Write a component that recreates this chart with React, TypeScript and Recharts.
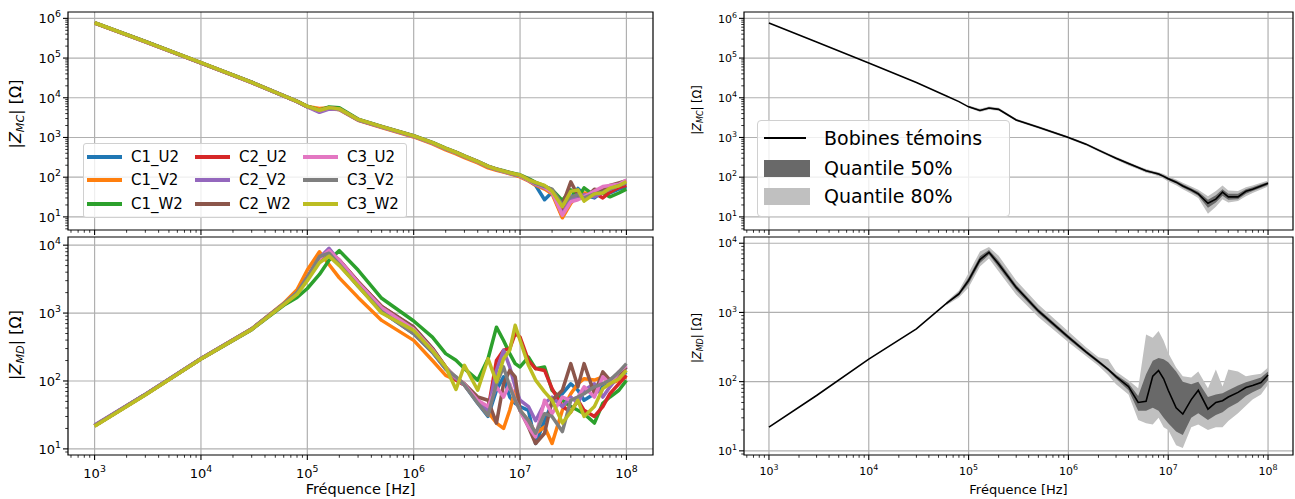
import React from 'react';
import {
  Area,
  CartesianGrid,
  ComposedChart,
  Line,
  ReferenceArea,
  XAxis,
  YAxis,
} from 'recharts';

const FONT = '"DejaVu Sans", sans-serif';

// frequencies (Hz) shared by every series
const FREQ = [
  1e3, 3e3, 1e4, 3e4, 6e4, 8e4, 1e5, 1.3e5, 1.6e5, 2e5, 3e5, 5e5, 1e6, 1.5e6, 2e6,
  2.5e6, 3e6, 4e6, 5e6, 6e6, 7e6, 8e6, 9e6, 1e7, 1.2e7, 1.4e7, 1.7e7, 2e7,
  2.5e7, 3e7, 3.5e7, 4e7, 5e7, 6e7, 7e7, 8.5e7, 1e8,
];

const SERIES_NAMES = ['C1_U2', 'C1_V2', 'C1_W2', 'C2_U2', 'C2_V2', 'C2_W2', 'C3_U2', 'C3_V2', 'C3_W2'];
const SERIES_COLORS = ['#1f77b4', '#ff7f0e', '#2ca02c', '#d62728', '#9467bd', '#8c564b', '#e377c2', '#7f7f7f', '#bcbd22'];

// |Z_MC| per coil
const MC_C1_U2 = [770000, 258000, 76000, 24300, 11200, 8100, 6000, 4750, 5550, 5150, 2780, 1830, 1070, 725, 515, 410, 330, 240, 182, 155, 138, 125, 115, 105, 84, 62, 27, 42, 10, 30, 52, 36, 30, 44, 40, 50, 58];
const MC_C1_V2 = [760000, 255000, 75000, 24000, 11100, 8050, 6000, 5400, 5600, 5000, 2700, 1780, 1030, 690, 485, 385, 310, 228, 172, 150, 134, 122, 112, 102, 80, 63, 50, 38, 9.5, 22, 34, 40, 38, 50, 55, 68, 72];
const MC_C1_W2 = [780000, 262000, 77000, 24700, 11300, 8200, 6100, 4900, 5900, 5600, 2900, 1900, 1110, 750, 540, 430, 345, 252, 190, 162, 145, 132, 122, 115, 92, 74, 60, 48, 26, 48, 30, 54, 35, 40, 32, 40, 50];
const MC_C2_U2 = [770000, 258000, 76000, 24300, 11200, 8100, 6000, 4700, 5500, 5200, 2800, 1850, 1080, 730, 520, 415, 335, 245, 185, 158, 140, 127, 117, 110, 86, 70, 56, 45, 14, 26, 38, 32, 40, 30, 42, 55, 62];
const MC_C2_V2 = [765000, 256000, 75500, 24100, 11100, 8000, 5900, 4300, 5200, 5100, 2750, 1820, 1060, 720, 515, 410, 330, 242, 183, 156, 138, 125, 115, 108, 83, 66, 54, 42, 12, 28, 31, 36, 32, 42, 50, 62, 72];
const MC_C2_W2 = [770000, 258000, 76000, 24300, 11200, 8100, 6000, 4800, 5600, 5200, 2820, 1860, 1090, 735, 525, 420, 340, 248, 188, 160, 142, 129, 119, 112, 88, 71, 58, 46, 20, 76, 35, 28, 50, 45, 62, 72, 82];
const MC_C3_U2 = [768000, 257000, 75800, 24200, 11150, 8080, 5950, 4700, 5500, 5150, 2780, 1840, 1070, 725, 518, 412, 332, 243, 184, 157, 139, 126, 116, 108, 84, 68, 55, 42, 11, 24, 27, 32, 45, 58, 62, 66, 85];
const MC_C3_V2 = [770000, 258000, 76000, 24300, 11200, 8100, 6000, 4750, 5550, 5200, 2800, 1850, 1080, 730, 520, 415, 335, 245, 185, 158, 140, 127, 117, 110, 86, 70, 58, 50, 20, 32, 36, 30, 38, 42, 50, 62, 72];
const MC_C3_W2 = [775000, 260000, 76500, 24500, 11250, 8150, 6050, 4850, 5650, 5250, 2850, 1880, 1100, 740, 530, 420, 340, 248, 188, 160, 142, 129, 120, 114, 86, 74, 62, 44, 18, 44, 48, 25, 38, 40, 53, 61, 78];

// |Z_MD| per coil
const MD_C1_U2 = [22, 63, 212, 580, 1350, 1950, 3200, 6000, 7600, 5200, 2500, 1050, 500, 265, 150, 108, 87, 47, 30, 73, 115, 58, 47, 42, 37, 12, 26, 47, 65, 91, 73, 52, 65, 82, 91, 115, 136];
const MD_C1_V2 = [22, 63, 212, 585, 1400, 2200, 4300, 8000, 5200, 3300, 1700, 780, 396, 200, 121, 103, 87, 52, 35, 24, 20, 37, 73, 37, 26, 17, 21, 12, 37, 65, 91, 108, 103, 115, 91, 103, 115];
const MD_C1_W2 = [22, 63, 210, 570, 1300, 1700, 2300, 3700, 6000, 8300, 4300, 1650, 763, 443, 253, 202, 152, 103, 213, 620, 395, 253, 180, 161, 225, 152, 161, 73, 52, 42, 37, 33, 24, 47, 58, 73, 102];
const MD_C2_U2 = [22, 63, 212, 580, 1350, 1950, 3300, 6200, 8300, 6000, 2900, 1250, 610, 300, 160, 103, 87, 52, 38, 200, 283, 300, 497, 443, 200, 152, 143, 77, 42, 35, 52, 37, 30, 42, 65, 91, 121];
const MD_C2_V2 = [22.5, 64, 214, 585, 1360, 1980, 3300, 6500, 9000, 5800, 2700, 1150, 540, 280, 152, 108, 87, 50, 37, 143, 283, 161, 82, 52, 42, 26, 47, 58, 42, 58, 47, 73, 91, 58, 82, 121, 161];
const MD_C2_W2 = [22, 63, 212, 580, 1350, 1950, 3200, 6000, 8000, 6000, 2900, 1250, 622, 305, 160, 112, 91, 58, 52, 24, 91, 143, 115, 37, 21, 12, 17, 52, 73, 180, 82, 180, 65, 136, 103, 128, 161];
const MD_C3_U2 = [22, 63, 212, 580, 1350, 1960, 3300, 6300, 8300, 6000, 2800, 1200, 580, 290, 155, 112, 89, 52, 42, 82, 58, 91, 52, 37, 21, 15, 52, 33, 58, 52, 58, 82, 58, 115, 91, 136, 170];
const MD_C3_V2 = [22, 63, 212, 580, 1370, 2000, 3400, 6800, 7600, 5200, 2500, 1050, 497, 265, 150, 115, 87, 47, 31, 91, 161, 82, 52, 37, 26, 17, 33, 30, 18, 52, 58, 65, 82, 91, 103, 136, 180];
const MD_C3_W2 = [21.5, 62, 210, 575, 1330, 1880, 3000, 5500, 6900, 5000, 2500, 1000, 556, 280, 161, 75, 170, 73, 213, 97, 213, 283, 660, 397, 170, 103, 69, 52, 24, 35, 52, 30, 42, 77, 91, 108, 143];

// witness coils: median and quantile bounds
const N = null;
const MC_MEDIAN = [760000, 255000, 75500, 24200, 11100, 8000, 5900, 4800, 5500, 5100, 2750, 1800, 1000, 680, 480, 370, 300, 220, 175, 145, 132, 120, 105, 91, 75, 60, 48, 38, 22, 28, 42, 32, 32, 44, 50, 60, 70];
const MC_Q25 = [N, N, N, N, N, N, 5800, 4600, 5300, 4900, 2650, 1750, 970, 660, 465, 355, 288, 210, 167, 138, 125, 113, 98, 85, 69, 55, 43, 34, 17, 23, 34, 27, 28, 38, 45, 54, 64];
const MC_Q75 = [N, N, N, N, N, N, 6200, 5000, 5700, 5300, 2850, 1870, 1040, 700, 500, 385, 312, 230, 183, 152, 138, 127, 112, 98, 81, 66, 53, 43, 27, 35, 50, 38, 38, 50, 56, 66, 76];
const MC_Q10 = [N, N, N, N, N, N, 5600, 4400, 5000, 4700, 2550, 1680, 930, 630, 445, 340, 275, 198, 158, 130, 118, 106, 92, 78, 63, 50, 38, 30, 12, 18, 28, 23, 25, 33, 40, 49, 58];
const MC_Q90 = [N, N, N, N, N, N, 6400, 5300, 6000, 5600, 2950, 1950, 1080, 730, 520, 400, 325, 242, 192, 160, 146, 134, 120, 105, 88, 72, 58, 48, 33, 45, 62, 46, 45, 56, 62, 72, 82];

const MD_MEDIAN = [22, 63, 212, 580, 1350, 1850, 2900, 5800, 7400, 5000, 2300, 1050, 440, 270, 195, 150, 118, 85, 50, 52, 120, 145, 110, 75, 42, 34, 55, 75, 40, 50, 53, 60, 70, 82, 88, 97, 125];
const MD_Q25 = [N, N, N, N, 1310, 1760, 2600, 5200, 6800, 4500, 2100, 970, 410, 255, 185, 142, 110, 75, 38, 38, 42, 38, 30, 25, 19, 17, 30, 35, 28, 33, 36, 42, 50, 62, 70, 80, 105];
const MD_Q75 = [N, N, N, N, 1390, 1950, 3200, 6500, 8000, 5600, 2500, 1130, 470, 285, 205, 158, 126, 95, 62, 128, 200, 220, 210, 190, 140, 100, 92, 100, 60, 65, 68, 75, 88, 98, 105, 115, 140];
const MD_Q10 = [N, N, N, N, 1270, 1650, 2300, 4600, 6000, 3900, 1800, 860, 370, 235, 170, 125, 92, 65, 28, 25, 24, 30, 22, 20, 12, 11, 22, 24, 20, 22, 22, 27, 35, 45, 55, 65, 90];
const MD_Q90 = [N, N, N, N, 1430, 2080, 3700, 7600, 8800, 6600, 2900, 1300, 530, 315, 225, 210, 140, 105, 80, 480, 430, 540, 390, 260, 160, 120, 115, 140, 80, 150, 85, 150, 140, 120, 125, 130, 160];

const X_MAJOR = [1e3, 1e4, 1e5, 1e6, 1e7, 1e8];
const X_DOMAIN: [number, number] = [10 ** 2.75, 10 ** 8.25];
const MC_DOMAIN: [number, number] = [10 ** 0.67, 10 ** 6.16];
const MD_DOMAIN_L: [number, number] = [10 ** 0.91, 10 ** 4.12];
const MD_DOMAIN_R: [number, number] = [10 ** 0.94, 10 ** 4.09];

const MC_SERIES = [MC_C1_U2, MC_C1_V2, MC_C1_W2, MC_C2_U2, MC_C2_V2, MC_C2_W2, MC_C3_U2, MC_C3_V2, MC_C3_W2];
const MD_SERIES = [MD_C1_U2, MD_C1_V2, MD_C1_W2, MD_C2_U2, MD_C2_V2, MD_C2_W2, MD_C3_U2, MD_C3_V2, MD_C3_W2];

function coilRows(series: number[][]) {
  return FREQ.map((f, i) => {
    const row: Record<string, number> = { f };
    SERIES_NAMES.forEach((name, k) => {
      row[name] = series[k][i];
    });
    return row;
  });
}

function bandRows(median: number[], q25: (number | null)[], q75: (number | null)[], q10: (number | null)[], q90: (number | null)[]) {
  return FREQ.map((f, i) => ({
    f,
    median: median[i],
    q50: q25[i] == null ? null : [q25[i], q75[i]],
    q80: q10[i] == null ? null : [q10[i], q90[i]],
  }));
}

const isDecade = (v: number) => Math.abs(Math.log10(v) - Math.round(Math.log10(v))) < 1e-9;

function logTicks(lo: number, hi: number) {
  const out: number[] = [];
  for (let e = Math.floor(Math.log10(lo)); e <= Math.ceil(Math.log10(hi)); e++) {
    for (let m = 1; m < 10; m++) {
      const v = m * 10 ** e;
      if (v >= lo && v <= hi) out.push(v);
    }
  }
  return out;
}

const X_TICKS = logTicks(X_DOMAIN[0], X_DOMAIN[1]);

function XTick(props: any) {
  const { x, y, payload, fs, show, dy, len } = props;
  const major = isDecade(payload.value);
  const e = Math.round(Math.log10(payload.value));
  return (
    <g>
      <line x1={x} x2={x} y1={y} y2={y + (major ? len : len * 0.55)} stroke="#000" strokeWidth={major ? 1.1 : 0.8} />
      {major && show && (
        <text x={x} y={y + dy} textAnchor="middle" fontSize={fs} fill="#000" fontFamily={FONT}>
          10
          <tspan dy={-fs * 0.45} fontSize={fs * 0.72}>{e}</tspan>
        </text>
      )}
    </g>
  );
}

function YTick(props: any) {
  const { x, y, payload, fs, len } = props;
  const major = isDecade(payload.value);
  const e = Math.round(Math.log10(payload.value));
  return (
    <g>
      <line x1={x} x2={x - (major ? len : len * 0.55)} y1={y} y2={y} stroke="#000" strokeWidth={major ? 1.1 : 0.8} />
      {major && (
        <text x={x - len - 2} y={y + fs * 0.38} textAnchor="end" fontSize={fs} fill="#000" fontFamily={FONT}>
          10
          <tspan dy={-fs * 0.45} fontSize={fs * 0.72}>{e}</tspan>
        </text>
      )}
    </g>
  );
}

type PanelProps = {
  left: number;
  top: number;
  width: number;
  height: number;
  marginTop: number;
  marginRight: number;
  yAxisWidth: number;
  xAxisHeight: number;
  yDomain: [number, number];
  data: any[];
  fs: number;
  xLabels: boolean;
  xLabelDy: number;
  xTitleFont?: number;
  children: React.ReactNode;
};

function Panel(p: PanelProps) {
  const yTicks = logTicks(p.yDomain[0], p.yDomain[1]);
  const yMajor = yTicks.filter(isDecade);
  return (
    <div style={{ position: 'absolute', left: p.left, top: p.top }}>
      <ComposedChart
        width={p.width}
        height={p.height}
        data={p.data}
        margin={{ top: p.marginTop, right: p.marginRight, bottom: 0, left: 0 }}
      >
        <CartesianGrid stroke="#b0b0b0" strokeWidth={1.2} verticalValues={X_MAJOR} horizontalValues={yMajor} />
        <XAxis
          dataKey="f"
          type="number"
          scale="log"
          domain={X_DOMAIN}
          allowDataOverflow
          ticks={X_TICKS}
          interval={0}
          height={p.xAxisHeight}
          axisLine={false}
          tickLine={false}
          tickSize={0}
          tickMargin={0}
          tick={(t: any) => <XTick {...t} fs={p.fs} show={p.xLabels} dy={p.xLabelDy} len={5} />}
          label={
            p.xTitleFont
              ? { value: 'Fréquence [Hz]', position: 'insideBottom', offset: 5, fontSize: p.xTitleFont, fill: '#000', fontFamily: FONT }
              : undefined
          }
        />
        <YAxis
          type="number"
          scale="log"
          domain={p.yDomain}
          allowDataOverflow
          ticks={yTicks}
          interval={0}
          width={p.yAxisWidth}
          axisLine={false}
          tickLine={false}
          tickSize={0}
          tickMargin={0}
          tick={(t: any) => <YTick {...t} fs={p.fs} len={5} />}
        />
        {p.children}
        <ReferenceArea
          x1={X_DOMAIN[0]}
          x2={X_DOMAIN[1]}
          y1={p.yDomain[0]}
          y2={p.yDomain[1]}
          fill="none"
          stroke="#000"
          strokeWidth={1.2}
          ifOverflow="visible"
        />
      </ComposedChart>
    </div>
  );
}

const coilLines = SERIES_NAMES.map((name, i) => (
  <Line
    key={name}
    type="linear"
    dataKey={name}
    stroke={SERIES_COLORS[i]}
    strokeWidth={3.5}
    strokeLinejoin="round"
    dot={false}
    activeDot={false}
    isAnimationActive={false}
  />
));

const bandSeries = [
  <Area key="q80" type="linear" dataKey="q80" stroke="none" fill="#c0c0c0" fillOpacity={1} dot={false} activeDot={false} isAnimationActive={false} />,
  <Area key="q50" type="linear" dataKey="q50" stroke="none" fill="#696969" fillOpacity={1} dot={false} activeDot={false} isAnimationActive={false} />,
  <Line key="median" type="linear" dataKey="median" stroke="#000" strokeWidth={1.6} dot={false} activeDot={false} isAnimationActive={false} />,
];

function YTitle({ x, y, fs, sub }: { x: number; y: number; fs: number; sub: string }) {
  return (
    <div
      style={{
        position: 'absolute',
        left: x,
        top: y,
        transform: 'translate(-50%, -50%) rotate(-90deg)',
        whiteSpace: 'nowrap',
        fontSize: fs,
        lineHeight: 1,
      }}
    >
      |<i>Z</i>
      <sub style={{ fontSize: '0.7em', fontStyle: 'italic', verticalAlign: '-0.25em' }}>{sub}</sub>| [Ω]
    </div>
  );
}

export default function App() {
  const mcRows = coilRows(MC_SERIES);
  const mdRows = coilRows(MD_SERIES);
  const mcBand = bandRows(MC_MEDIAN, MC_Q25, MC_Q75, MC_Q10, MC_Q90);
  const mdBand = bandRows(MD_MEDIAN, MD_Q25, MD_Q75, MD_Q10, MD_Q90);

  return (
    <div
      style={{
        position: 'absolute',
        left: 0,
        top: 0,
        width: 1295,
        height: 499,
        background: '#fff',
        fontFamily: FONT,
        color: '#000',
        overflow: 'hidden',
      }}
    >
      <Panel left={0} top={0} width={660} height={235} marginTop={12} marginRight={7} yAxisWidth={68} xAxisHeight={5} yDomain={MC_DOMAIN} data={mcRows} fs={13} xLabels={false} xLabelDy={0}>
        {coilLines}
      </Panel>
      <Panel left={0} top={230} width={660} height={269} marginTop={7} marginRight={7} yAxisWidth={68} xAxisHeight={44} yDomain={MD_DOMAIN_L} data={mdRows} fs={13} xLabels xLabelDy={23} xTitleFont={14.5}>
        {coilLines}
      </Panel>
      <Panel left={660} top={0} width={635} height={235} marginTop={12} marginRight={2} yAxisWidth={84} xAxisHeight={5} yDomain={MC_DOMAIN} data={mcBand} fs={11} xLabels={false} xLabelDy={0}>
        {bandSeries}
      </Panel>
      <Panel left={660} top={230} width={635} height={269} marginTop={7} marginRight={2} yAxisWidth={84} xAxisHeight={44} yDomain={MD_DOMAIN_R} data={mdBand} fs={11} xLabels xLabelDy={20} xTitleFont={13}>
        {bandSeries}
      </Panel>

      <YTitle x={17} y={114} fs={16} sub="MC" />
      <YTitle x={17} y={345} fs={16} sub="MD" />
      <YTitle x={699} y={110} fs={11.5} sub="MC" />
      <YTitle x={699} y={338} fs={11.5} sub="MD" />

      {/* coil legend */}
      <div
        style={{
          position: 'absolute',
          left: 83,
          top: 143,
          width: 324,
          height: 75,
          boxSizing: 'border-box',
          border: '1px solid #d0d0d0',
          borderRadius: 3,
          background: 'rgba(255,255,255,0.8)',
        }}
      >
        {SERIES_NAMES.map((name, i) => (
          <div
            key={name}
            style={{
              position: 'absolute',
              left: 3 + Math.floor(i / 3) * 108,
              top: 4 + (i % 3) * 23.3,
              height: 18,
              display: 'flex',
              alignItems: 'center',
            }}
          >
            <span style={{ display: 'inline-block', width: 35, height: 4, background: SERIES_COLORS[i] }} />
            <span style={{ marginLeft: 9, fontSize: 15 }}>{name}</span>
          </div>
        ))}
      </div>

      {/* witness legend */}
      <div
        style={{
          position: 'absolute',
          left: 757,
          top: 120,
          width: 253,
          height: 97,
          boxSizing: 'border-box',
          border: '1px solid #d0d0d0',
          borderRadius: 4,
          background: 'rgba(255,255,255,0.8)',
          fontSize: 19,
        }}
      >
        <div style={{ position: 'absolute', left: 6, top: 5, height: 24, display: 'flex', alignItems: 'center' }}>
          <span style={{ display: 'inline-block', width: 42, height: 1.6, background: '#000', marginRight: 18 }} />
          <span>Bobines témoins</span>
        </div>
        <div style={{ position: 'absolute', left: 6, top: 35, height: 24, display: 'flex', alignItems: 'center' }}>
          <span style={{ display: 'inline-block', width: 46, height: 17, background: '#696969', marginRight: 14 }} />
          <span>Quantile 50%</span>
        </div>
        <div style={{ position: 'absolute', left: 6, top: 63, height: 24, display: 'flex', alignItems: 'center' }}>
          <span style={{ display: 'inline-block', width: 46, height: 17, background: '#c0c0c0', marginRight: 14 }} />
          <span>Quantile 80%</span>
        </div>
      </div>
    </div>
  );
}
